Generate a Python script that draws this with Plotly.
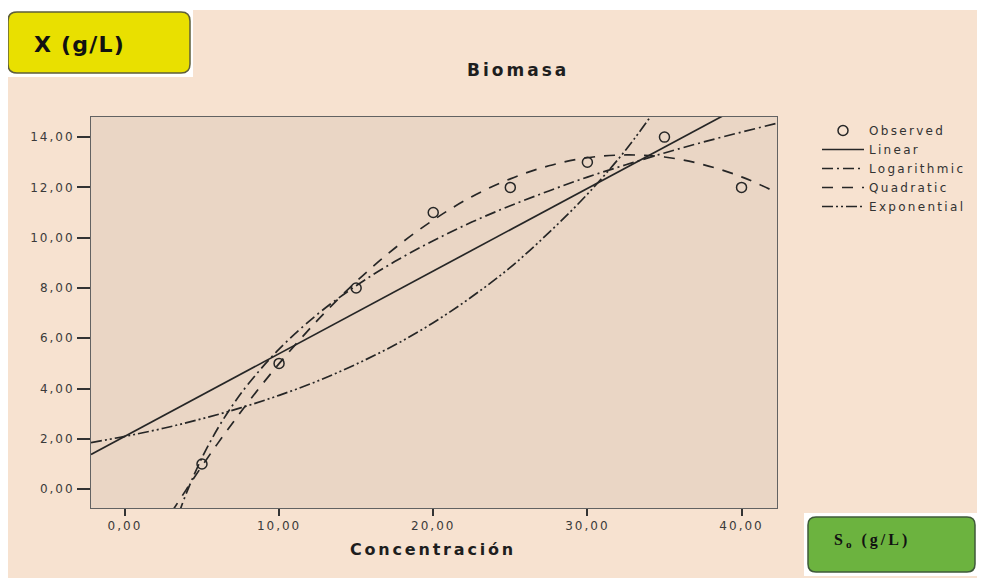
import plotly.graph_objects as go

# The page body adds an 8px margin, so figure pixels = reference pixels - 8.
OFF = 8
W, H = 985 - OFF, 578 - OFF
L, R, T, B = 91 - OFF, 777 - OFF, 117 - OFF, 508 - OFF  # plot area in figure pixels

# ---- data ----
obs_x = [5, 10, 15, 20, 25, 30, 35, 40]
obs_y = [1.0, 5.0, 8.0, 11.0, 12.0, 13.0, 14.0, 12.0]

lin_x = [-2.2, 42.3]
lin_y = [1.38, 16.0]

log_x = [3.5, 4, 5, 6, 7, 8, 10, 12.5, 15, 17.5, 20, 22.5, 25, 27.5, 30, 32.5, 35, 37.5, 40, 42.3]
log_y = [-0.97, -0.14, 1.25, 2.39, 3.35, 4.18, 5.57, 6.96, 8.09, 9.05, 9.88, 10.62, 11.27, 11.86, 12.41, 12.90, 13.37, 13.80, 14.20, 14.55]

quad_x = [3, 4, 5, 6, 7, 8, 10, 12.5, 15, 17.5, 20, 22.5, 25, 27.5, 30, 32.5, 35, 37.5, 40, 42.3]
quad_y = [-0.94, 0.0, 0.92, 1.80, 2.64, 3.46, 4.99, 6.72, 8.25, 9.58, 10.70, 11.63, 12.34, 12.86, 13.18, 13.29, 13.21, 12.91, 12.42, 11.79]

exp_x = [-2.2, 0, 2.5, 5, 7.5, 10, 12.5, 15, 17.5, 20, 22.5, 25, 27.5, 30, 32.5, 35]
exp_y = [1.85, 2.10, 2.42, 2.80, 3.23, 3.73, 4.30, 4.97, 5.73, 6.62, 7.65, 8.82, 10.2, 11.73, 13.5, 15.6]

x_ticks = [0, 10, 20, 30, 40]
x_tick_labels = ["0,00", "10,00", "20,00", "30,00", "40,00"]
y_ticks = [0, 2, 4, 6, 8, 10, 12, 14]
y_tick_labels = ["0,00", "2,00", "4,00", "6,00", "8,00", "10,00", "12,00", "14,00"]

series_names = ["Observed", "Linear", "Logarithmic", "Quadratic", "Exponential"]

# ---- helpers ----
def px(x):
    return (x - L) / (R - L)

def py(y):
    return (B - y) / (B - T)

def spaced(s, sp):
    return f'<span style="letter-spacing:{sp}px">{s}</span>'

def rounded_rect(x0, y0, x1, y1, r):
    rx = r / (R - L)
    ry = r / (B - T)
    X0, X1 = px(x0), px(x1)
    Y0, Y1 = py(y1), py(y0)
    return (f"M {X0+rx},{Y0} L {X1-rx},{Y0} Q {X1},{Y0} {X1},{Y0+ry} "
            f"L {X1},{Y1-ry} Q {X1},{Y1} {X1-rx},{Y1} L {X0+rx},{Y1} "
            f"Q {X0},{Y1} {X0},{Y1-ry} L {X0},{Y0+ry} Q {X0},{Y0} {X0+rx},{Y0} Z")

INK = "#262626"
FONT = "DejaVu Sans, Verdana, sans-serif"
LW = 1.7

fig = go.Figure()
fig.add_trace(go.Scatter(x=obs_x, y=obs_y, mode="markers", name=spaced(series_names[0], 2.3),
                         marker=dict(symbol="circle-open", size=10, color=INK, line=dict(width=1.5, color=INK))))
fig.add_trace(go.Scatter(x=lin_x, y=lin_y, mode="lines", name=spaced(series_names[1], 2.3),
                         line=dict(color=INK, width=LW)))
fig.add_trace(go.Scatter(x=log_x, y=log_y, mode="lines", name=spaced(series_names[2], 2.3), line_shape="spline",
                         line=dict(color=INK, width=LW, dash="11px,4px,2px,4px")))
fig.add_trace(go.Scatter(x=quad_x, y=quad_y, mode="lines", name=spaced(series_names[3], 2.3), line_shape="spline",
                         line=dict(color=INK, width=LW, dash="11px,9px")))
fig.add_trace(go.Scatter(x=exp_x, y=exp_y, mode="lines", name=spaced(series_names[4], 2.3), line_shape="spline",
                         line=dict(color=INK, width=LW, dash="11px,3px,2px,3px,2px,3px")))

axis_common = dict(showgrid=False, zeroline=False, showline=True, mirror=True,
                   linecolor="#626262", linewidth=1, ticks="outside",
                   tickcolor="#333333", tickwidth=2,
                   tickfont=dict(family=FONT, size=12, color="#3a3a3a"))

fig.update_xaxes(range=[-2.2, 42.3], tickvals=x_ticks,
                 ticktext=[spaced(t, 2) for t in x_tick_labels], ticklen=7, **axis_common)
fig.update_yaxes(range=[-0.75, 14.8], tickvals=y_ticks,
                 ticktext=[spaced(t, 2) for t in y_tick_labels], ticklen=13, **axis_common)

shapes = [
    dict(type="rect", xref="paper", yref="paper", x0=px(0), x1=px(W), y0=py(2), y1=py(0),
         fillcolor="white", line=dict(width=0), layer="below"),
    dict(type="rect", xref="paper", yref="paper", x0=px(0), x1=px(185), y0=py(69), y1=py(0),
         fillcolor="white", line=dict(width=0), layer="below"),
    dict(type="rect", xref="paper", yref="paper", x0=px(796), x1=px(971), y0=py(568), y1=py(505),
         fillcolor="white", line=dict(width=0), layer="below"),
    dict(type="path", xref="paper", yref="paper", path=rounded_rect(0, 4, 182, 65, 9),
         fillcolor="#e9e000", line=dict(color="#5e5e3a", width=1.5)),
    dict(type="path", xref="paper", yref="paper", path=rounded_rect(800, 509, 967, 564, 8),
         fillcolor="#6cb33f", line=dict(color="#3f5a3a", width=1.5)),
]

annotations = [
    dict(text="<b>" + spaced("Biomasa", 3) + "</b>", xref="paper", yref="paper", x=px(510), y=py(62),
         showarrow=False, font=dict(family=FONT, size=17, color="#1e1e1e"), xanchor="center", yanchor="middle"),
    dict(text="<b>" + spaced("Concentración", 2.8) + "</b>", xref="paper", yref="paper", x=px(425), y=py(541),
         showarrow=False, font=dict(family=FONT, size=16, color="#1e1e1e"), xanchor="center", yanchor="middle"),
    dict(text="<b>" + spaced("X (g/L)", 1.2) + "</b>", xref="paper", yref="paper", x=px(24), y=py(37),
         showarrow=False, font=dict(family=FONT, size=22, color="#111"), xanchor="left", yanchor="middle"),
    dict(text="<b>" + spaced("S<sub>o</sub> (g/L)", 3) + "</b>", xref="paper", yref="paper", x=px(824), y=py(532),
         showarrow=False, font=dict(family="Liberation Serif, serif", size=16, color="#111"),
         xanchor="left", yanchor="middle"),
]

fig.update_layout(
    width=W, height=H,
    margin=dict(l=L, r=W - R, t=T, b=H - B, pad=0),
    paper_bgcolor="#f7e2d0",
    plot_bgcolor="#ead6c5",
    showlegend=True,
    legend=dict(x=px(809), y=py(108), xanchor="left", yanchor="top",
                bgcolor="rgba(0,0,0,0)", font=dict(family=FONT, size=12, color="#333"),
                tracegroupgap=0, itemwidth=42),
    shapes=shapes,
    annotations=annotations,
)

fig.write_html("out.html")
